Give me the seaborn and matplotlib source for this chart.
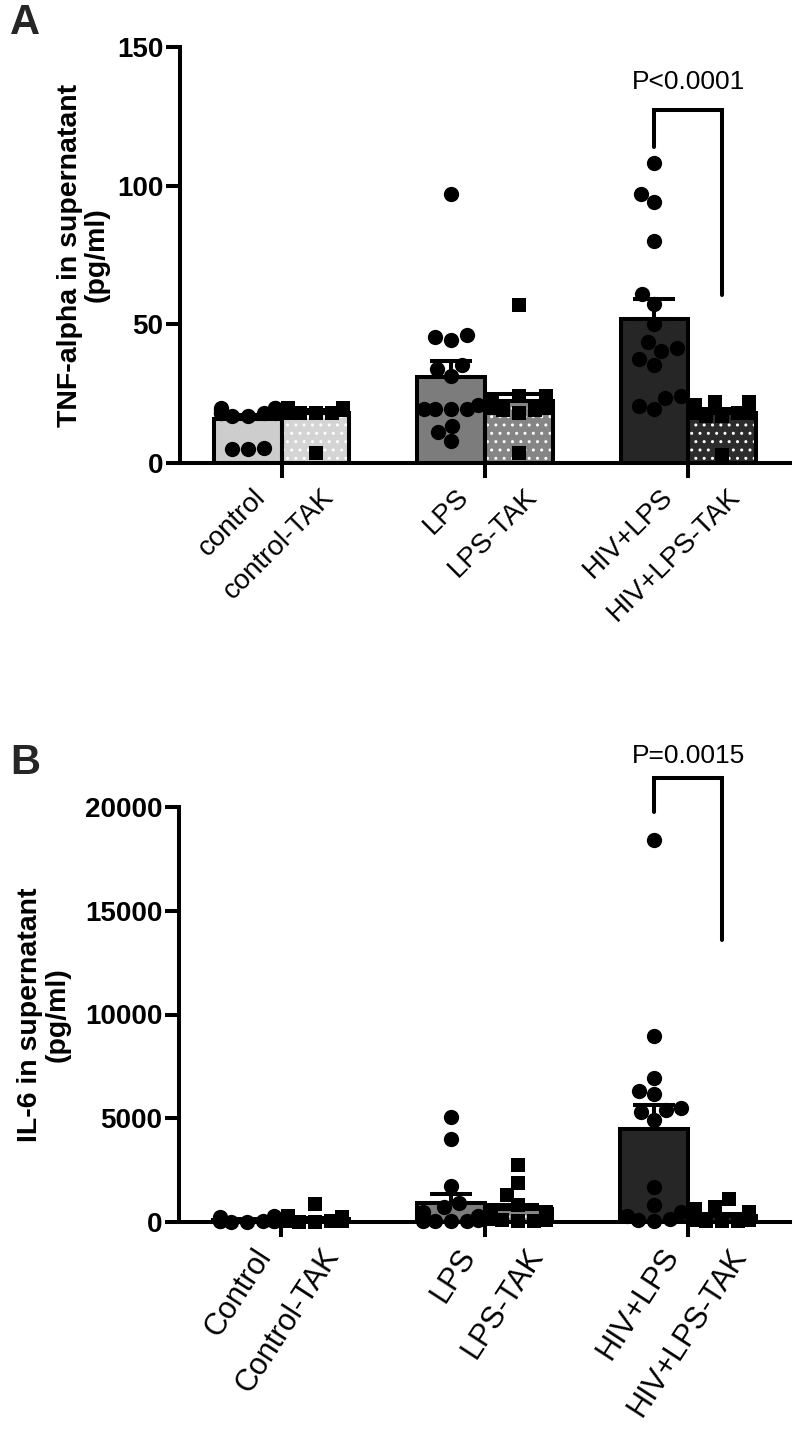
import warnings

import matplotlib.pyplot as plt
import numpy as np
import pandas as pd
import seaborn as sns
from matplotlib.markers import MarkerStyle
from matplotlib.patches import Rectangle
from matplotlib.transforms import ScaledTranslation

warnings.filterwarnings('ignore')

labels_a = ['control', 'control-TAK', 'LPS', 'LPS-TAK', 'HIV+LPS', 'HIV+LPS-TAK']
labels_b = ['Control', 'Control-TAK', 'LPS', 'LPS-TAK', 'HIV+LPS', 'HIV+LPS-TAK']

# TNF-alpha in supernatant (pg/ml), one list per group
tnf_control = [19, 18, 20, 17, 19, 18, 20, 17, 18, 19, 20, 18, 5, 5.5, 5]
tnf_control_tak = [19, 20, 18, 19, 20, 19, 18, 20, 19, 18, 19, 20, 18, 19, 3.5]
tnf_lps = [97, 45.5, 44.5, 46, 35.5, 34, 31.5, 19.5, 19.5, 21, 19.5, 19.5, 13.5, 11, 8]
tnf_lps_tak = [57, 24, 23, 24, 22, 21, 20, 19, 18, 20, 22, 21, 19, 20, 3.5]
tnf_hiv_lps = [108, 97, 94, 80, 61, 57.5, 50, 43.5, 41.5, 40.5, 37.5, 35.5, 24, 23.5, 19.5, 20.5]
tnf_hiv_lps_tak = [22, 21, 20, 22, 19, 18, 20, 19, 18, 20, 17, 19, 18, 17, 3]

# IL-6 in supernatant (pg/ml)
il6_control = [50, 30, 40, 60, 80, 100, 120, 150, 200, 250, 300, 20, 10, 70, 90]
il6_control_tak = [850, 300, 250, 200, 150, 120, 100, 80, 60, 50, 40, 30, 20, 10, 100]
il6_lps = [5050, 4000, 1750, 900, 700, 500, 300, 200, 150, 100, 100, 50, 50, 50, 30]
il6_lps_tak = [2750, 1900, 1300, 800, 600, 500, 400, 300, 250, 200, 150, 100, 100, 50, 50]
il6_hiv_lps = [18400, 8950, 6950, 6300, 6150, 5400, 5300, 5500, 4900, 1700, 800, 500, 300, 100, 150, 50]
il6_hiv_lps_tak = [1100, 700, 650, 500, 400, 300, 250, 200, 150, 100, 100, 80, 50, 50, 30]

tnf = [tnf_control, tnf_control_tak, tnf_lps, tnf_lps_tak, tnf_hiv_lps, tnf_hiv_lps_tak]
il6 = [il6_control, il6_control_tak, il6_lps, il6_lps_tak, il6_hiv_lps, il6_hiv_lps_tak]

fills = ['#cdcdcd', '#d4d4d4', '#7c7c7c', '#858585', '#262626', '#2c2c2c']
LW = 2.9


def draw_panel(ax, labels, series, yticks, ylabel, label_x, bracket, p_text,
               rot=45, label_size=20, shift_in=0.05):
    # pairs of bars separated by a one-bar gap
    pos = [i + i // 2 for i in range(len(labels))]
    df = pd.DataFrame({
        'pos': np.repeat(pos, [len(s) for s in series]),
        'value': np.concatenate(series),
    })

    sns.barplot(data=df, x='pos', y='value', native_scale=True, errorbar=None,
                width=1, color='white', ax=ax, zorder=1)
    for p in list(ax.patches):
        i = pos.index(int(round(p.get_x() + p.get_width() / 2)))
        p.set_facecolor(fills[i])
        p.set_linewidth(0)
        if i % 2:
            p.set_edgecolor('white')
            p.set_hatch('..')
        ax.add_patch(Rectangle(p.get_xy(), p.get_width(), p.get_height(),
                               fill=False, ec='black', lw=LW, zorder=1.5))

    # mean + SEM, upper half only
    for x, vals in zip(pos, series):
        m = np.mean(vals)
        se = np.std(vals, ddof=1) / np.sqrt(len(vals))
        ax.errorbar(x, m, yerr=[[0], [se]], color='black', lw=LW,
                    capsize=15, capthick=LW, zorder=2)

    n_before = len(ax.collections)
    sns.swarmplot(data=df, x='pos', y='value', native_scale=True,
                  color='black', size=11, ax=ax, zorder=3)
    sq = MarkerStyle('s')
    sq_path = sq.get_path().transformed(sq.get_transform().scale(0.87))
    for coll in ax.collections[n_before:]:
        offs = coll.get_offsets()
        if len(offs) == 0:
            continue
        coll.set_clip_on(False)
        i = pos.index(int(round(offs[0][0])))
        if i % 2:
            coll.set_paths([sq_path])

    ax.set_xlim(-1.0, 8.0)
    ax.set_ylim(yticks[0], yticks[-1])
    ax.set_yticks(yticks)
    ax.set_xticks(pos, labels, rotation=rot, ha='right',
                  rotation_mode='anchor', fontsize=label_size)
    ax.set_xticks([pos[k] + 0.5 for k in range(0, len(pos), 2)], minor=True)
    ax.tick_params(axis='x', which='major', length=0, pad=15, colors='black')
    ax.tick_params(axis='x', which='minor', length=11, width=LW, colors='black')
    ax.tick_params(axis='y', length=10, width=LW, labelsize=20, pad=2,
                   colors='black')
    shift = ScaledTranslation(shift_in, 0, ax.figure.dpi_scale_trans)
    for t in ax.get_xticklabels():
        t.set_transform(t.get_transform() + shift)
    for t in ax.get_yticklabels():
        t.set_fontweight('bold')
    ax.set_xlabel('')
    ax.set_ylabel(ylabel, fontsize=20.5, fontweight='bold', linespacing=1.05,
                  color='black')
    ax.yaxis.set_label_coords(label_x, 0.5)
    sns.despine(ax=ax)
    for s in ['left', 'bottom']:
        ax.spines[s].set_linewidth(LW)
        ax.spines[s].set_color('black')

    y_top, y_left, y_right, y_text = bracket
    x0, x1 = pos[4], pos[5]
    ax.plot([x0, x0, x1, x1], [y_left, y_top, y_top, y_right], color='black',
            lw=LW, clip_on=False, solid_joinstyle='miter')
    ax.text((x0 + x1) / 2, y_text, p_text, ha='center', va='center',
            fontsize=19, color='black', clip_on=False)


sns.set_style('ticks')
plt.rcParams['font.family'] = ['Liberation Sans', 'DejaVu Sans']
plt.rcParams['hatch.color'] = 'white'
plt.rcParams['hatch.linewidth'] = 1.0

fig = plt.figure(figsize=(7.97, 14.47), dpi=100)
ax_a = fig.add_axes([180 / 797, 1 - 463 / 1447, 610 / 797, 416 / 1447])
ax_b = fig.add_axes([179 / 797, 1 - 1222 / 1447, 611 / 797, 415 / 1447])

draw_panel(ax_a, labels_a, tnf, [0, 50, 100, 150],
           'TNF-alpha in supernatant\n(pg/ml)', -0.115,
           (127.3, 114, 60.6, 137.4), 'P<0.0001')
draw_panel(ax_b, labels_b, il6, [0, 5000, 10000, 15000, 20000],
           'IL-6 in supernatant\n(pg/ml)', -0.178,
           (21400, 19760, 13590, 22460), 'P=0.0015',
           rot=57, label_size=22, shift_in=0.06)

fig.text(10 / 797, 1 - 23 / 1447, 'A', fontsize=30, fontweight='bold', va='center')
fig.text(10 / 797, 1 - 763 / 1447, 'B', fontsize=30, fontweight='bold', va='center')

fig.savefig('out.png', dpi=100)
